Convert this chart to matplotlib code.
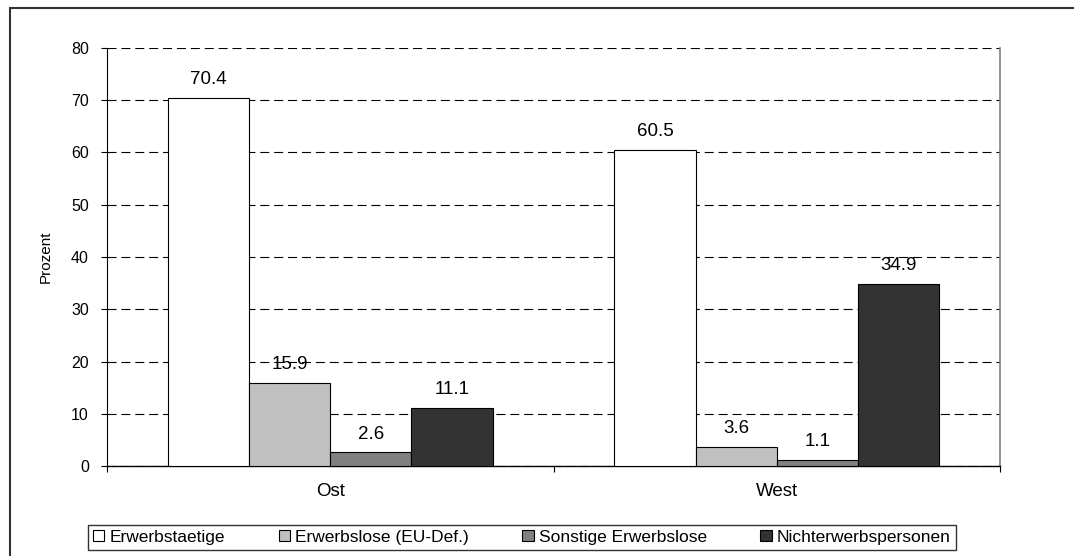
import matplotlib
matplotlib.use("Agg")
import matplotlib.pyplot as plt
import numpy as np
from matplotlib.patches import Rectangle

plt.rcParams["font.family"] = ["Liberation Sans", "DejaVu Sans"]
plt.rcParams["lines.scale_dashes"] = False

regions = ["Ost", "West"]
series_names = ["Erwerbstaetige", "Erwerbslose (EU-Def.)",
                "Sonstige Erwerbslose", "Nichterwerbspersonen"]
erwerbstaetige = [70.4, 60.5]
erwerbslose_eu = [15.9, 3.6]
sonstige_erwerbslose = [2.6, 1.1]
nichterwerbspersonen = [11.1, 34.9]
series_values = [erwerbstaetige, erwerbslose_eu, sonstige_erwerbslose, nichterwerbspersonen]
series_colors = ["#FFFFFF", "#C0C0C0", "#808080", "#333333"]
y_ticks = [0, 10, 20, 30, 40, 50, 60, 70, 80]

fig = plt.figure(figsize=(10.74, 5.56), dpi=100)
ax = fig.add_axes([107 / 1074, 90 / 556, 893 / 1074, 418 / 556])

x = np.arange(len(regions))
width = 1 / 5.5
offsets = (np.arange(len(series_names)) - 1.5) * width

for vals, name, color, off in zip(series_values, series_names, series_colors, offsets):
    bars = ax.bar(x + off, vals, width=width, color=color, edgecolor="#000000",
                  linewidth=0.8, label=name, zorder=3)
    for rect, v in zip(bars, vals):
        ax.annotate(f"{v:.1f}", xy=(rect.get_x() + rect.get_width() / 2, v),
                    xytext=(0, 10), textcoords="offset points",
                    ha="center", va="baseline", fontsize=13.5, color="#000000")

ax.set_xlim(-0.5, 1.5)
ax.set_ylim(0, 80)
ax.set_yticks(y_ticks)
ax.set_yticklabels([str(t) for t in y_ticks], fontsize=11.5)
ax.tick_params(axis="y", direction="out", length=4.5, width=0.8, pad=8.5, colors="#000000")

# Category boundaries as major ticks, category names on minor ticks
ax.set_xticks([-0.5, 0.5, 1.5])
ax.set_xticklabels([])
ax.set_xticks(x, minor=True)
ax.set_xticklabels(regions, minor=True, fontsize=13.5)
ax.tick_params(axis="x", which="major", direction="out", length=4.5, width=0.8)
ax.tick_params(axis="x", which="minor", length=0, pad=12)

ax.yaxis.grid(True, color="#000000", linewidth=0.8, dashes=(6.5, 3.5), zorder=0)
ax.set_axisbelow(True)

ax.spines["top"].set_visible(False)
ax.spines["right"].set_color("#808080")
ax.spines["right"].set_linewidth(1.2)
ax.spines["left"].set_color("#000000")
ax.spines["left"].set_linewidth(0.8)
ax.spines["bottom"].set_color("#000000")
ax.spines["bottom"].set_linewidth(1.0)

ax.set_ylabel("Prozent", fontsize=11, labelpad=13)

leg = fig.legend(loc="lower left",
                 bbox_to_anchor=(88 / 1074, 6 / 556, 868 / 1074, 26 / 556),
                 mode="expand", ncol=4, fontsize=12.5, frameon=True, fancybox=False,
                 handlelength=0.65, handleheight=0.65, handletextpad=0.3,
                 borderpad=0.3, borderaxespad=0, columnspacing=0.8)
leg.get_frame().set_edgecolor("#000000")
leg.get_frame().set_linewidth(1.0)

# Outer chart frame (extends beyond the canvas on the right and bottom)
fig.patches.append(Rectangle((10 / 1074, -0.2), 1.2, 1 - 8 / 556 + 0.2,
                             transform=fig.transFigure, fill=False,
                             edgecolor="#333333", linewidth=1.5, clip_on=False))

fig.savefig("out.png", dpi=100)
